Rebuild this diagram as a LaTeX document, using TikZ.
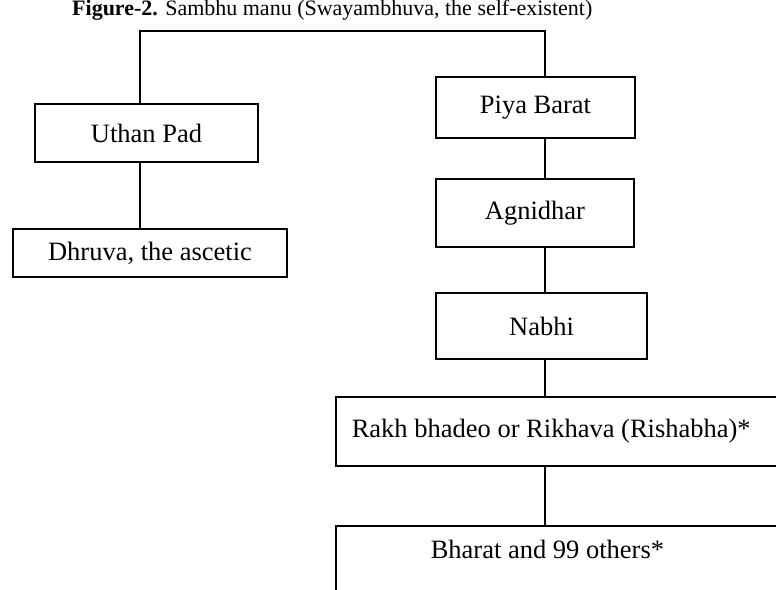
\documentclass[tikz,border=0pt]{standalone}
\usepackage{fontspec}
\setmainfont{Liberation Serif}
\begin{document}
\begin{tikzpicture}[x=1pt,y=1pt]
\tikzstyle{every node}+=[inner sep=0pt]
\tikzstyle{box}=[draw=black, line width=1.6pt, font=\fontsize{26.5}{30}\selectfont]
\tikzstyle{link}=[draw=black, line width=1.6pt]
\useasboundingbox (0,0) rectangle (776,-589);
\clip (0,0) rectangle (776,-589);
\node [anchor=base west, font=\fontsize{22}{26}\selectfont] (title) at (72,-16) {\textbf{Figure-2.} Sambhu manu (Swayambhuva, the self-existent)};
\coordinate (lft) at (140,-31);
\coordinate (rgt) at (545,-31);
% left branch
\node [box, minimum width=223pt, minimum height=58pt] (uthan) at (146.5,-133) {Uthan Pad};
\node [box, minimum width=274pt, minimum height=48pt] (dhruva) at (150,-253) {Dhruva, the ascetic};
% right branch
\node [box, minimum width=199pt, minimum height=61pt] (piya) at (535.5,-107.5) {Piya Barat};
\node [box, minimum width=198pt, minimum height=68pt] (agni) at (535,-213) {Agnidhar};
\node [box, minimum width=211pt, minimum height=66pt] (nabhi) at (541.5,-326) {Nabhi};
\node [box, anchor=north west, text width=428pt, align=flush left, inner xsep=16pt, minimum height=69pt] (rakh) at (335,-396) {Rakh bhadeo or Rikhava (Rishabha)*};
\node [box, anchor=north west, text width=270pt, align=flush left, inner xsep=95pt, text height=18pt, text depth=25pt, inner ysep=15pt] (bharat) at (335,-525) {Bharat and 99 others*};
\draw [link] (lft |- uthan.north) -- (lft) -- (rgt) -- (rgt |- piya.north);
\draw [link] (lft |- uthan.south) -- (lft |- dhruva.north);
\draw [link] (rgt |- piya.south) -- (rgt |- agni.north);
\draw [link] (rgt |- agni.south) -- (rgt |- nabhi.north);
\draw [link] (rgt |- nabhi.south) -- (rgt |- rakh.north);
\draw [link] (rgt |- rakh.south) -- (rgt |- bharat.north);
\end{tikzpicture}
\end{document}
